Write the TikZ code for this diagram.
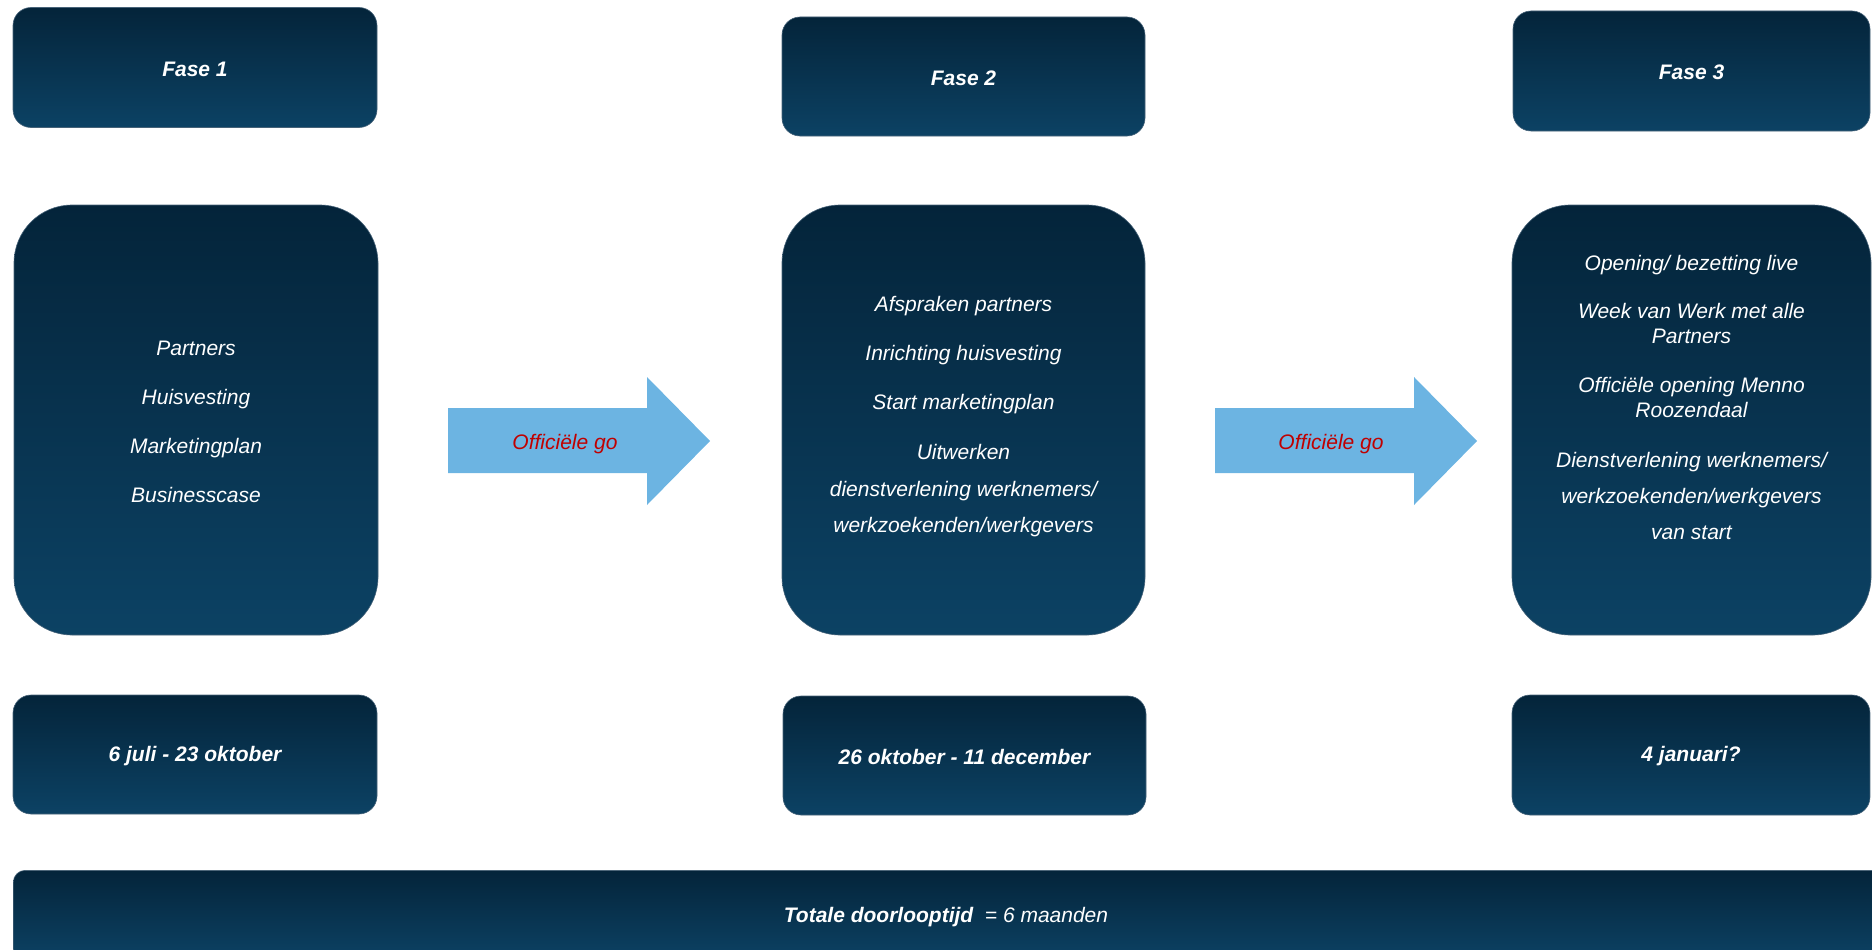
\documentclass[tikz,border=0pt]{standalone}
\usepackage{fontspec}
\setmainfont{Liberation Sans}
\usetikzlibrary{positioning}

\definecolor{navytop}{RGB}{4,36,58}
\definecolor{navybot}{RGB}{12,66,100}
\definecolor{navyedge}{RGB}{70,98,120}
\definecolor{goblue}{RGB}{108,180,226}
\definecolor{gored}{RGB}{192,0,0}

\begin{document}
\begin{tikzpicture}[x=1pt,y=1pt,
	fasebox/.style={rectangle,rounded corners=18pt,top color=navytop,bottom color=navybot,
		draw=navyedge,line width=0.6pt,minimum width=364pt,minimum height=120pt,inner sep=0pt,
		text height=18pt,text=white,font=\fontsize{21}{25}\selectfont\bfseries\itshape},
	bigbox/.style={fasebox,rounded corners=58pt,minimum height=430pt},
	bodytext/.style={align=center,text=white,font=\fontsize{21}{25}\selectfont\itshape},
	golabel/.style={text=gored,font=\fontsize{21}{25}\selectfont\itshape}]

	\useasboundingbox (0,0) rectangle (1872,-950);

	% fases
	\node[fasebox] (fase1) at (195,-67.5) {Fase 1};
	\node[fasebox,minimum width=363pt,minimum height=119pt] (fase2) at (963.5,-76.5) {Fase 2};
	\node[fasebox,minimum width=357pt] (fase3) at (1691.5,-71) {Fase 3};

	% inhoud
	\node[bigbox] (body1) at (196,-420) {};
	\node[bigbox,minimum width=363pt] (body2) at (963.5,-420) {};
	\node[bigbox,minimum width=359pt] (body3) at (1691.5,-420) {};

	\node[bodytext] (list1) at ([yshift=-1.5pt]body1.center) {Partners\\[24pt]Huisvesting\\[24pt]Marketingplan\\[24pt]Businesscase};
	\node[bodytext] (list2) at ([yshift=3pt]body2.center) {Afspraken partners\\[24pt]Inrichting huisvesting\\[24pt]Start marketingplan\\[25pt]Uitwerken\\[12pt]dienstverlening werknemers/\\[11pt]werkzoekenden/werkgevers};
	\node[bodytext] (list3) at ([yshift=23pt]body3.center) {Opening/ bezetting live\\[23pt]Week van Werk met alle\\Partners\\[24pt]Offici\"ele opening Menno\\Roozendaal\\[25pt]Dienstverlening werknemers/\\[11pt]werkzoekenden/werkgevers\\[11pt]van start};

	% periodes
	\node[fasebox,minimum height=119pt] (date1) at (195,-754.5) {6 juli - 23 oktober};
	\node[fasebox,minimum width=363pt,minimum height=119pt] (date2) at (964.5,-755.5) {26 oktober - 11 december};
	\node[fasebox,minimum width=358pt] (date3) at (1691,-755) {4 januari?};

	% totaal
	\node[fasebox,rounded corners=12pt,minimum width=1870pt,minimum height=90pt,anchor=north west] (total) at (13,-870) {};
	\node[text=white,font=\fontsize{21}{25}\selectfont\itshape] (totaltext) at (946,-917) {\textbf{Totale doorlooptijd}\ \ = 6 maanden};

	% go pijlen
	\fill[goblue] (448,-408) -- (647,-408) -- (647,-377) -- (710,-441) -- (647,-505) -- (647,-473) -- (448,-473) -- cycle;
	\node[golabel] (go1) at (565,-444) {Offici\"ele go};
	\fill[goblue] (1215,-408) -- (1414,-408) -- (1414,-377) -- (1477,-441) -- (1414,-505) -- (1414,-473) -- (1215,-473) -- cycle;
	\node[golabel] (go2) at (1331,-444) {Offici\"ele go};

\end{tikzpicture}
\end{document}
